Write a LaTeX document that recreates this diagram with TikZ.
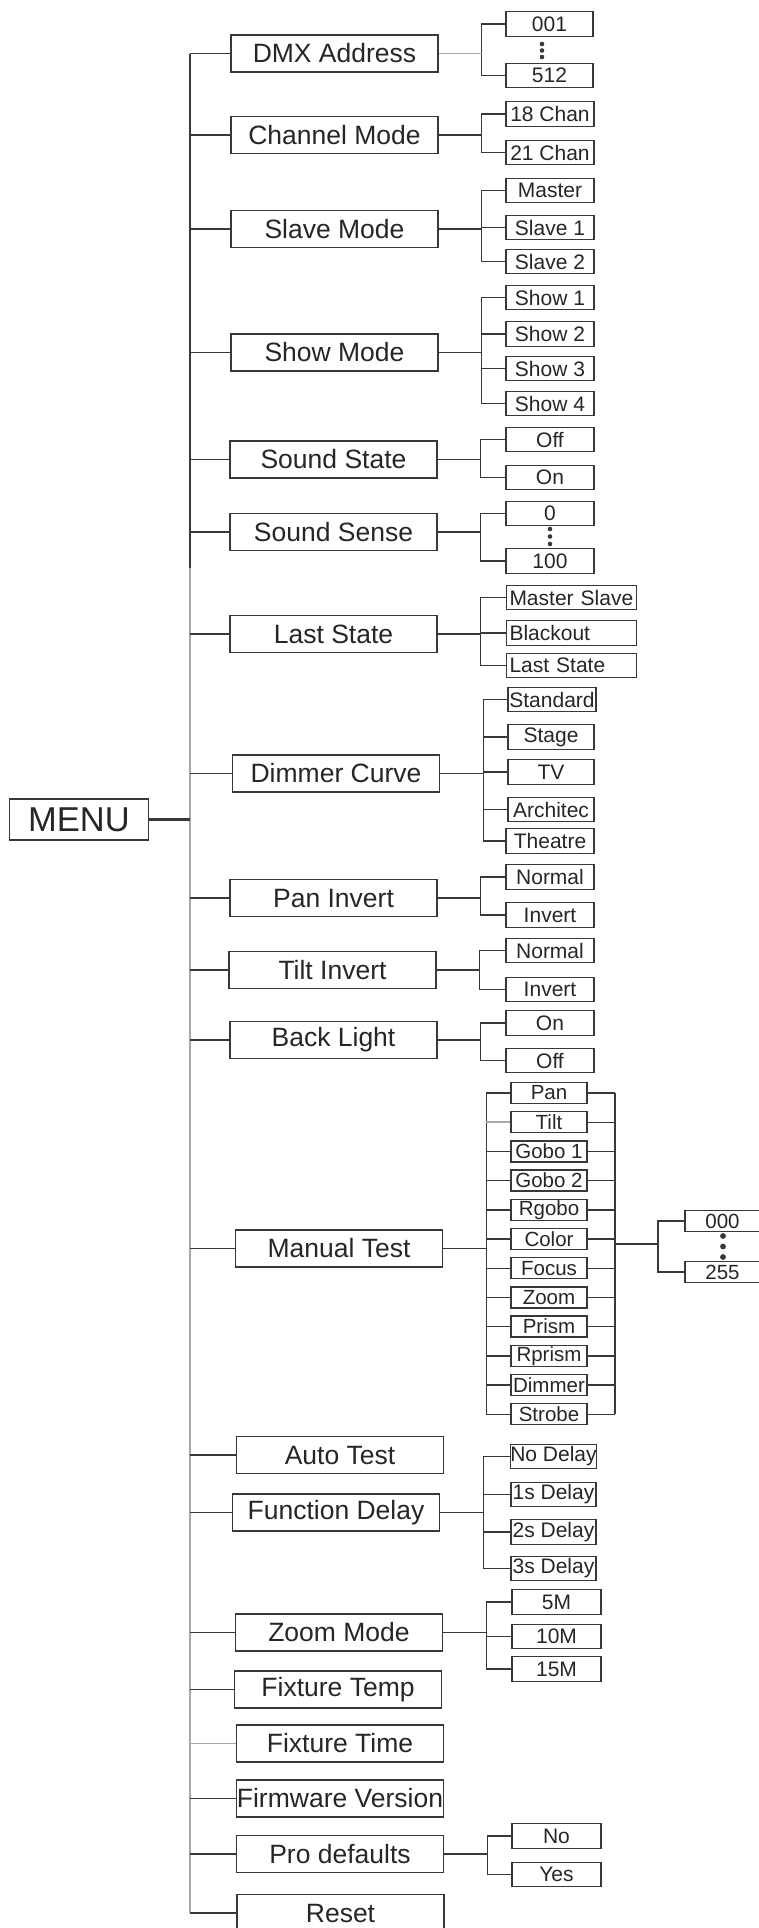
\documentclass[tikz,border=0pt]{standalone}
\usepackage{fontspec}
\setmainfont{Liberation Sans}
\usepackage{xcolor}
\usepackage{tikz}
\definecolor{linecolor}{HTML}{383838}
\definecolor{palecolor}{HTML}{A8A8A8}

\begin{document}
\begin{tikzpicture}[
    x=1pt, y=-1pt,
    mainbox/.style={rectangle, draw=linecolor, line width=1.5pt, text=black!85,
                    minimum width=207pt, minimum height=37pt, inner sep=0pt,
                    font=\fontsize{26.5}{30}\selectfont},
    subbox/.style={rectangle, draw=linecolor, line width=1.4pt, text=black!85,
                   minimum height=24.5pt, inner sep=0pt,
                   font=\fontsize{21}{24}\selectfont},
    widebox/.style={subbox, text width=124pt, align=left, minimum width=130pt},
    testbox/.style={subbox, minimum width=76pt, minimum height=21pt,
                    font=\fontsize{20.5}{23}\selectfont},
    menubox/.style={rectangle, draw=linecolor, line width=1.5pt, text=black!85,
                    minimum width=139pt, minimum height=41pt, inner sep=0pt,
                    font=\fontsize{34.5}{38}\selectfont},
    link/.style={draw=linecolor, line width=1.4pt},
    pale/.style={draw=palecolor, line width=1.6pt}
]
\useasboundingbox (0,0) rectangle (759,1928);

\node[menubox] (menu) at (79,819.5) {MENU};

\foreach \n/\x/\y/\t in {dmx/334.5/53.5/DMX Address, chan/334.5/135/Channel Mode,
    slave/334.5/229/Slave Mode, show/334.5/352.5/Show Mode,
    sstate/333.5/459.5/Sound State, ssense/333.5/532/Sound Sense,
    last/333.5/634/Last State, dimmer/336/773.5/Dimmer Curve,
    pan/333.5/898/Pan Invert, tilt/332.5/970/Tilt Invert,
    back/333.5/1040/Back Light, manual/339/1248.5/Manual Test,
    auto/340/1455/Auto Test, fdelay/336/1512.5/Function Delay,
    zoom/339/1632.5/Zoom Mode, ftemp/338/1689.5/Fixture Temp,
    ftime/340/1743.5/Fixture Time, firm/340/1798.5/Firmware Version,
    prodef/340/1854/Pro defaults, reset/340.5/1913/Reset}
    \node[mainbox] (\n) at (\x,\y) {\t};

\coordinate (trunk-top) at (190,53.5);
\coordinate (trunk-mid) at (190,568);
\coordinate (trunk-end) at (190,1913);
\draw[link] (trunk-top) -- (trunk-mid);
\draw[pale] (trunk-mid) -- (trunk-end);
\draw[link, line width=2.6pt] (menu.east) -- (menu.east -| trunk-top);
\foreach \n in {dmx,chan,slave,show,sstate,ssense,last,dimmer,pan,tilt,back,
                manual,auto,fdelay,zoom,ftemp,firm,prodef,reset}
    \draw[link] (\n.west) -- (\n.west -| trunk-top);
\draw[pale] (ftime.west) -- (ftime.west -| trunk-top);

\foreach \p/\n/\x/\y/\w/\t in {dmx/1/549.5/24/87/001, dmx/2/549.5/75.5/87/512,
    chan/1/550/114/88/18 Chan, chan/2/550/152.5/88/21 Chan,
    slave/1/550/190.5/88/Master, slave/2/550/227.5/88/Slave 1, slave/3/550/261.5/88/Slave 2,
    show/1/550/297.5/88/Show 1, show/2/550/334/88/Show 2,
    show/3/550/368.5/88/Show 3, show/4/550/403.5/88/Show 4,
    sstate/1/550/439.5/88/Off, sstate/2/550/477.5/88/On,
    ssense/1/550/513.5/88/0, ssense/2/550/561/88/100,
    dimmer/1/552/699.5/88/Standard, dimmer/2/551/737/86/Stage, dimmer/3/551/772/86/TV,
    dimmer/4/551/809.5/86/Architec, dimmer/5/550/841/88/Theatre,
    pan/1/550/877/88/Normal, pan/2/550/915/88/Invert,
    tilt/1/550/950.5/88/Normal, tilt/2/550/989.5/88/Invert,
    back/1/550/1023/88/On, back/2/550/1060.5/88/Off,
    fdelay/1/553.5/1456.5/85/No Delay, fdelay/2/553.5/1494.5/85/1s Delay,
    fdelay/3/553.5/1532/85/2s Delay, fdelay/4/553.5/1568.5/85/3s Delay,
    zoom/1/556.5/1602/89/5M, zoom/2/556.5/1636.5/89/10M, zoom/3/556.5/1669/89/15M,
    prodef/1/556.5/1836/89/No, prodef/2/556.5/1874.5/89/Yes}{
    \node[subbox, minimum width=\w pt] (\p-\n) at (\x,\y) {\t};
    \draw[link] (\p.east) ++(43,0) |- (\p-\n.west);
}
\foreach \n/\y/\t in {1/597.5/Master Slave, 2/633/Blackout, 3/665.5/Last State}{
    \node[widebox] (last-\n) at (571.5,\y) {\t};
    \draw[link] (last.east) ++(43,0) |- (last-\n.west);
}
\foreach \n in {chan,slave,show,sstate,ssense,last,dimmer,pan,tilt,back,fdelay,zoom,prodef}
    \draw[link] (\n.east) -- ++(43,0);
\draw[pale] (dmx.east) -- ++(43,0);

\foreach \t [count=\i from 0] in {Pan,Tilt,Gobo 1,Gobo 2,Rgobo,Color,Focus,
                                  Zoom,Prism,Rprism,Dimmer,Strobe}
    \node[testbox] (mt-\i) at (549,{1093+29.2*\i}) {\t};
\coordinate (mtr) at (615,1244);
\foreach \i in {0,2,3,4,5,6,7,8,9,10,11}
    \draw[link] (manual.east) ++(43,0) |- (mt-\i.west);
\draw[pale] (mt-1.west) -- ++(-24,0);
\draw[link] (manual.east) -- ++(43,0);
\foreach \i in {0,...,11}
    \draw[link] (mt-\i.east) -- (mt-\i.east -| mtr);
\draw[link] (mt-0.east -| mtr) -- (mt-11.east -| mtr);

\node[testbox, minimum width=75pt] (val-1) at (722.5,1221) {000};
\node[testbox, minimum width=75pt] (val-2) at (722.5,1272) {255};
\foreach \n in {1,2}
    \draw[link] (mtr) -- ++(43,0) |- (val-\n.west);

\foreach \y in {44,50.5,57}
    \fill[linecolor] (542,\y) circle (2.3);
\foreach \y in {529,536.5,544}
    \fill[linecolor] (550,\y) circle (2.3);
\foreach \y in {1236,1246.5,1257}
    \fill[linecolor] (723,\y) circle (2.9);
\end{tikzpicture}
\end{document}
